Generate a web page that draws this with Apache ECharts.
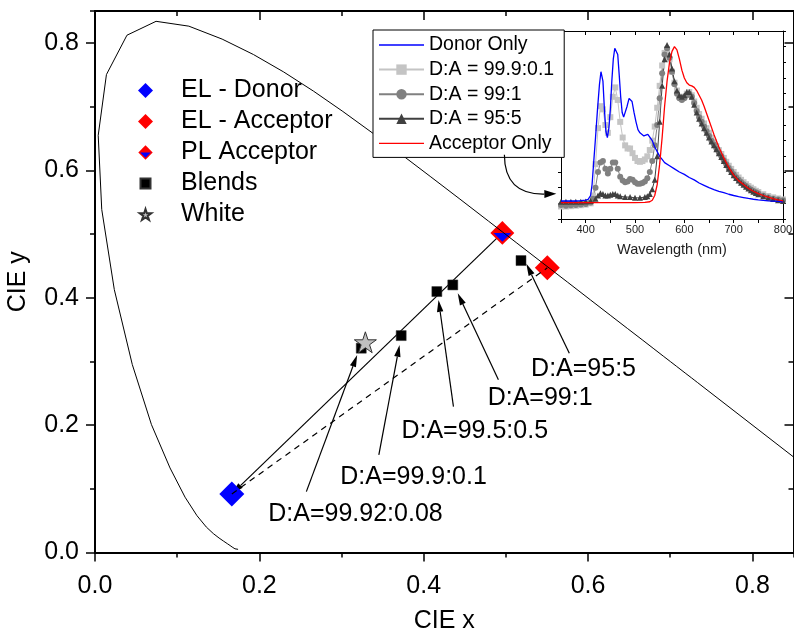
<!DOCTYPE html>
<html>
<head>
<meta charset="utf-8">
<script src="https://cdn.jsdelivr.net/npm/echarts@6.0.0/dist/echarts.min.js"></script>
<style>
  html, body { margin: 0; padding: 0; background: #fff; }
  #chart { width: 794px; height: 633px; }
</style>
</head>
<body>
<div id="chart"></div>
<script>
const FONT = '"Liberation Sans", Arial, Helvetica, sans-serif';

// CIE 1931 spectral locus (380–700 nm), continued along x + y = 1 past the red end
const locus = [
  [0.1741,0.0050],[0.1740,0.0050],[0.1738,0.0049],[0.1736,0.0049],[0.1733,0.0048],
  [0.1730,0.0048],[0.1726,0.0048],[0.1721,0.0048],[0.1714,0.0051],[0.1703,0.0058],
  [0.1689,0.0069],[0.1669,0.0086],[0.1644,0.0109],[0.1611,0.0138],[0.1566,0.0177],
  [0.1510,0.0227],[0.1440,0.0297],[0.1355,0.0399],[0.1241,0.0578],[0.1096,0.0868],
  [0.0913,0.1327],[0.0687,0.2007],[0.0454,0.2950],[0.0235,0.4127],[0.0082,0.5384],
  [0.0039,0.6548],[0.0139,0.7502],[0.0389,0.8120],[0.0743,0.8338],[0.1142,0.8262],
  [0.1547,0.8059],[0.1929,0.7816],[0.2296,0.7543],[0.2658,0.7243],[0.3016,0.6923],
  [0.3373,0.6589],[0.3731,0.6245],[0.4087,0.5896],[0.4441,0.5547],[0.4788,0.5202],
  [0.5125,0.4866],[0.5448,0.4544],[0.5752,0.4242],[0.6029,0.3965],[0.6270,0.3725],
  [0.6482,0.3514],[0.6658,0.3340],[0.6801,0.3197],[0.6915,0.3083],[0.7006,0.2993],
  [0.7079,0.2920],[0.7190,0.2809],[0.7260,0.2740],[0.7300,0.2700],[0.7334,0.2666],
  [0.7347,0.2653],[0.8600,0.1400]
];

// Colour coordinates
const elDonor = [0.1665, 0.092];
const elAcceptor = [0.5504, 0.4468];
const plAcceptor = [0.4957, 0.5017];
const blends = [[0.324, 0.3207], [0.3726, 0.3405], [0.416, 0.4096], [0.4354, 0.420], [0.5184, 0.4583]];
const whitePoint = [0.329, 0.330];

// Blend annotations: text, text centre, arrow tail, arrow tip (CIE x, y)
const noteText = ['D:A=99.92:0.08', 'D:A=99.9:0.1', 'D:A=99.5:0.5', 'D:A=99:1', 'D:A=95:5'];
const noteLabelPos = [[0.317, 0.0606], [0.3876, 0.118], [0.4621, 0.1898], [0.5417, 0.243], [0.5945, 0.2874]];
const noteArrowFrom = [[0.2572, 0.0956], [0.3454, 0.1532], [0.4362, 0.229], [0.4909, 0.271], [0.5772, 0.3129]];
const noteArrowTo = [[0.319, 0.310], [0.3706, 0.3259], [0.418, 0.3965], [0.4414, 0.407], [0.5249, 0.4531]];

// Curved pointer from the spectra legend into the spectra panel: start, control, tip
const insetPointer = [0.4982, 0.6242, 0.4982, 0.5615, 0.5614, 0.5630];

// Normalised emission spectra: [wavelength nm, intensity]
const donorOnly = [
  [350,0.015],[360,0.015],[370,0.015],[380,0.015],[390,0.017],[400,0.02],[405,0.025],[410,0.05],
  [413,0.12],[416,0.25],[420,0.42],[424,0.6],[428,0.76],[431,0.84],[433,0.85],[435,0.78],[438,0.6],
  [441,0.46],[444,0.42],[447,0.48],[450,0.6],[453,0.78],[456,0.92],[459,0.99],[462,1.0],[465,0.95],
  [468,0.82],[471,0.68],[474,0.58],[477,0.55],[480,0.56],[484,0.62],[488,0.67],[491,0.68],[494,0.65],
  [498,0.58],[502,0.52],[506,0.47],[510,0.45],[514,0.44],[518,0.43],[522,0.44],[526,0.44],[530,0.43],
  [535,0.4],[540,0.36],[545,0.33],[550,0.3],[555,0.28],[560,0.26],[570,0.24],[580,0.22],[590,0.2],
  [600,0.185],[610,0.165],[620,0.15],[630,0.13],[640,0.115],[650,0.1],[660,0.088],[670,0.077],
  [680,0.068],[690,0.058],[700,0.05],[710,0.043],[720,0.037],[730,0.031],[740,0.026],[750,0.022],
  [760,0.019],[770,0.016],[780,0.014],[790,0.012],[800,0.01]
];
const blend999 = [
  [350,-0.02],[360,-0.02],[370,-0.018],[380,-0.015],[390,-0.012],[400,-0.008],[410,0.0],[415,0.05],
  [420,0.25],[425,0.48],[430,0.62],[435,0.6],[440,0.5],[445,0.45],[450,0.55],[455,0.68],[460,0.74],
  [465,0.66],[470,0.52],[475,0.42],[480,0.37],[485,0.35],[490,0.35],[495,0.32],[500,0.29],[505,0.27],
  [510,0.265],[515,0.27],[520,0.28],[525,0.3],[530,0.34],[535,0.4],[540,0.49],[545,0.61],[550,0.75],
  [555,0.88],[560,0.96],[565,0.98],[570,0.92],[575,0.84],[580,0.77],[585,0.72],[590,0.68],[595,0.67],
  [600,0.68],[605,0.7],[610,0.71],[615,0.69],[620,0.65],[625,0.61],[630,0.57],[635,0.54],[640,0.51],
  [645,0.48],[650,0.45],[655,0.42],[660,0.39],[665,0.365],[670,0.34],[675,0.315],[680,0.29],
  [685,0.265],[690,0.24],[695,0.22],[700,0.2],[705,0.182],[710,0.165],[715,0.15],[720,0.135],
  [725,0.122],[730,0.11],[735,0.1],[740,0.09],[745,0.08],[750,0.072],[760,0.058],[770,0.047],
  [780,0.038],[790,0.031],[800,0.025]
];
const blend99 = [
  [350,-0.01],[360,-0.015],[370,-0.012],[380,-0.01],[390,-0.008],[400,-0.005],[410,0.005],[415,0.03],
  [420,0.1],[425,0.2],[430,0.26],[435,0.27],[440,0.22],[445,0.19],[450,0.22],[455,0.26],[460,0.26],
  [465,0.22],[470,0.17],[475,0.145],[480,0.135],[485,0.14],[490,0.155],[495,0.15],[500,0.135],
  [505,0.125],[510,0.125],[515,0.13],[520,0.14],[525,0.16],[530,0.2],[535,0.27],[540,0.37],[545,0.5],
  [550,0.67],[555,0.83],[560,0.95],[565,0.99],[570,0.93],[575,0.84],[580,0.76],[585,0.7],[590,0.67],
  [595,0.66],[600,0.67],[605,0.69],[610,0.7],[615,0.68],[620,0.64],[625,0.59],[630,0.55],[635,0.52],
  [640,0.49],[645,0.46],[650,0.43],[655,0.4],[660,0.375],[665,0.35],[670,0.325],[675,0.3],[680,0.275],
  [685,0.25],[690,0.225],[695,0.205],[700,0.185],[705,0.167],[710,0.15],[715,0.136],[720,0.122],
  [725,0.11],[730,0.098],[735,0.088],[740,0.078],[745,0.07],[750,0.062],[760,0.048],[770,0.038],
  [780,0.03],[790,0.024],[800,0.02]
];
const blend95 = [
  [350,0.01],[360,0.01],[370,0.01],[380,0.01],[390,0.01],[400,0.012],[410,0.015],[420,0.03],[425,0.05],
  [430,0.065],[435,0.06],[440,0.05],[445,0.05],[450,0.055],[455,0.06],[460,0.06],[465,0.05],[470,0.045],
  [480,0.04],[490,0.04],[500,0.035],[510,0.035],[520,0.04],[525,0.045],[530,0.06],[535,0.09],[540,0.15],
  [545,0.3],[550,0.52],[555,0.75],[560,0.92],[565,1.01],[570,0.95],[575,0.86],[580,0.78],[585,0.72],
  [590,0.69],[595,0.68],[600,0.69],[605,0.71],[610,0.71],[615,0.68],[620,0.63],[625,0.58],[630,0.54],
  [635,0.51],[640,0.48],[645,0.45],[650,0.42],[655,0.395],[660,0.37],[665,0.345],[670,0.32],[675,0.295],
  [680,0.27],[685,0.245],[690,0.22],[695,0.2],[700,0.18],[705,0.162],[710,0.145],[715,0.131],[720,0.118],
  [725,0.106],[730,0.094],[735,0.084],[740,0.074],[745,0.066],[750,0.058],[760,0.045],[770,0.035],
  [780,0.027],[790,0.02],[800,0.015]
];
const acceptorOnly = [
  [350,0.005],[380,0.005],[420,0.005],[460,0.005],[500,0.005],[520,0.006],[530,0.01],[535,0.02],
  [540,0.05],[545,0.12],[550,0.25],[555,0.42],[560,0.62],[565,0.78],[570,0.9],[575,0.97],[580,1.0],
  [585,0.98],[590,0.92],[595,0.85],[600,0.8],[605,0.77],[610,0.755],[615,0.75],[620,0.74],[625,0.72],
  [630,0.69],[635,0.66],[640,0.62],[650,0.53],[660,0.44],[670,0.36],[680,0.29],[690,0.23],[700,0.18],
  [710,0.145],[720,0.12],[730,0.095],[740,0.077],[750,0.062],[760,0.05],[770,0.04],[780,0.03],
  [790,0.022],[800,0.015]
];

// Marker shapes
const plSvg = '<svg xmlns="http://www.w3.org/2000/svg" width="48" height="48" viewBox="0 0 48 48">' +
  '<polygon points="24,1 47,24 24,47 1,24" fill="#ff0000"/>' +
  '<polygon points="7,24 41,24 24,41" fill="#0000ff"/></svg>';
const plSymbol = 'image://data:image/svg+xml;charset=utf-8,' + encodeURIComponent(plSvg);
const starPath = 'path://M50,0 L61.23,34.55 L97.55,34.55 L68.17,55.9 L79.39,90.45 L50,69.1 L20.61,90.45 L31.83,55.9 L2.45,34.55 L38.77,34.55 Z';
const starLegendIcon = 'path://M-12,-14 M112,104 M50,0 L61.23,34.55 L97.55,34.55 L68.17,55.9 L79.39,90.45 L50,69.1 L20.61,90.45 L31.83,55.9 L2.45,34.55 L38.77,34.55 Z';
const squareLegendIcon = 'path://M0,0 M15,15 M2.5,2.5 H12.5 V12.5 H2.5 Z';
const plainLineIcon = 'path://M0,0 M45,13 M0,5.85 H45 V7.15 H0 Z';

function arrowHead(tip, from, len, half) {
  const ang = Math.atan2(tip[1] - from[1], tip[0] - from[0]);
  const c = Math.cos(ang), s = Math.sin(ang);
  const bx = tip[0] - len * c, by = tip[1] - len * s;
  return { base: [bx, by], points: [tip, [bx - half * s, by + half * c], [bx + half * s, by - half * c]] };
}

function renderArrow(params, api) {
  const a = api.coord([api.value(0), api.value(1)]);
  const b = api.coord([api.value(2), api.value(3)]);
  const h = arrowHead(b, a, 12, 3.2);
  return {
    type: 'group',
    children: [
      { type: 'line', shape: { x1: a[0], y1: a[1], x2: h.base[0], y2: h.base[1] }, style: { stroke: '#000', lineWidth: 1.2 } },
      { type: 'polygon', shape: { points: h.points }, style: { fill: '#000' } }
    ]
  };
}

function renderCurve(params, api) {
  const p0 = api.coord([api.value(0), api.value(1)]);
  const c = api.coord([api.value(2), api.value(3)]);
  const p1 = api.coord([api.value(4), api.value(5)]);
  const h = arrowHead(p1, c, 12, 4);
  return {
    type: 'group',
    children: [
      { type: 'bezierCurve', shape: { x1: p0[0], y1: p0[1], x2: h.base[0], y2: h.base[1], cpx1: c[0], cpy1: c[1] },
        style: { stroke: '#000', fill: 'none', lineWidth: 1.2 } },
      { type: 'polygon', shape: { points: h.points }, style: { fill: '#000' } }
    ]
  };
}

function renderNote(params, api) {
  const p = api.coord([api.value(0), api.value(1)]);
  return {
    type: 'text', x: p[0], y: p[1],
    style: { text: noteText[params.dataIndex], fill: '#000', font: '25px ' + FONT, align: 'center', verticalAlign: 'middle' }
  };
}

// Axis builders
const black = '#000';
function mainX(extra) {
  return Object.assign({
    type: 'value', gridIndex: 0, min: 0, max: 0.85,
    splitLine: { show: false },
    axisLine: { show: false, onZero: false, lineStyle: { color: black, width: 2 } },
    axisLabel: { show: false }
  }, extra);
}
function mainY(extra) {
  return Object.assign({
    type: 'value', gridIndex: 0, min: 0, max: 0.85,
    splitLine: { show: false },
    axisLine: { show: false, onZero: false, lineStyle: { color: black, width: 2 } },
    axisLabel: { show: false }
  }, extra);
}
const tickLabel = { show: true, fontSize: 25, fontFamily: FONT, color: black, showMaxLabel: false, formatter: v => v.toFixed(1) };
const majorTick = (inside) => ({ show: true, inside, length: 9, lineStyle: { color: black, width: 1.5 } });
const minorTickStyle = (inside) => ({ show: true, inside, length: 5, lineStyle: { color: black, width: 1.5 } });
const shownLine = { show: true, onZero: false, lineStyle: { color: black, width: 2 } };

const insetLine = { show: true, onZero: false, lineStyle: { color: black, width: 1 } };

function spectrum(name, data, color, symbol, size, width, z) {
  return {
    type: 'line', name, data, xAxisIndex: 4, yAxisIndex: 4, z,
    symbol: symbol || 'none', showSymbol: !!symbol, symbolSize: size || 0,
    itemStyle: { color }, lineStyle: { color, width: width || 1 },
    clip: true, silent: true
  };
}

const chart = echarts.init(document.getElementById('chart'), null, { renderer: 'canvas' });
chart.setOption({
  animation: false,
  backgroundColor: '#fff',
  textStyle: { fontFamily: FONT },
  grid: [
    { left: 95, top: 11, width: 698.5, height: 541.5, outerBoundsMode: 'none', containLabel: false },
    { left: 561, top: 31, width: 222, height: 188, outerBoundsMode: 'none', containLabel: false }
  ],
  xAxis: [
    mainX({ position: 'bottom', interval: 0.2, axisLine: shownLine, axisTick: majorTick(false),
      axisLabel: Object.assign({ margin: 21 }, tickLabel),
      name: 'CIE x', nameLocation: 'middle', nameGap: 56,
      nameTextStyle: { fontSize: 25, color: black, fontFamily: FONT } }),
    mainX({ position: 'bottom', interval: 0.1, axisTick: minorTickStyle(false) }),
    mainX({ position: 'top', interval: 0.2, axisLine: shownLine, axisTick: majorTick(true) }),
    mainX({ position: 'top', interval: 0.1, axisTick: minorTickStyle(true) }),
    { type: 'value', gridIndex: 1, position: 'bottom', min: 350, max: 800, interval: 50,
      splitLine: { show: false }, axisLine: insetLine,
      axisTick: { show: true, length: 4, lineStyle: { color: black, width: 1 } },
      axisLabel: { show: true, fontSize: 11, color: '#222', margin: 5, fontFamily: FONT,
        formatter: v => (v % 100 === 0 ? String(v) : '') },
      name: 'Wavelength (nm)', nameLocation: 'middle', nameGap: 23,
      nameTextStyle: { fontSize: 14.5, color: '#222', fontFamily: FONT } },
    { type: 'value', gridIndex: 1, position: 'top', min: 350, max: 800, interval: 50,
      splitLine: { show: false }, axisLine: insetLine,
      axisTick: { show: true, inside: true, length: 4, lineStyle: { color: black, width: 1 } },
      axisLabel: { show: false } }
  ],
  yAxis: [
    mainY({ position: 'left', interval: 0.2, axisLine: shownLine, axisTick: majorTick(false),
      axisLabel: Object.assign({ margin: 16 }, tickLabel),
      name: 'CIE y', nameLocation: 'middle', nameGap: 64,
      nameTextStyle: { fontSize: 25, color: black, fontFamily: FONT } }),
    mainY({ position: 'left', interval: 0.1, axisTick: minorTickStyle(false) }),
    mainY({ position: 'right', interval: 0.2, axisLine: shownLine, axisTick: majorTick(true) }),
    mainY({ position: 'right', interval: 0.1, axisTick: minorTickStyle(true) }),
    { type: 'value', gridIndex: 1, position: 'left', min: -0.1, max: 1.1, interval: 0.1,
      splitLine: { show: false }, axisLine: insetLine,
      axisTick: { show: true, length: 3, lineStyle: { color: black, width: 1 } },
      axisLabel: { show: false } },
    { type: 'value', gridIndex: 1, position: 'right', min: -0.1, max: 1.1, interval: 0.1,
      splitLine: { show: false }, axisLine: insetLine,
      axisTick: { show: true, length: 3, lineStyle: { color: black, width: 1 } },
      axisLabel: { show: false } }
  ],
  legend: [
    {
      orient: 'vertical', left: 137, top: 78, padding: 0,
      itemWidth: 15, itemHeight: 15, itemGap: 6, selectedMode: false,
      textStyle: { fontSize: 25, lineHeight: 25, color: black, fontFamily: FONT, padding: [0, 0, 0, 23] },
      data: [
        { name: 'EL - Donor' },
        { name: 'EL - Acceptor' },
        { name: 'PL Acceptor' },
        { name: 'Blends', icon: squareLegendIcon },
        { name: 'White', icon: starLegendIcon }
      ]
    },
    {
      orient: 'vertical', left: 373, top: 30, padding: [5, 10, 4, 5],
      backgroundColor: '#fff', borderColor: black, borderWidth: 1,
      itemWidth: 45, itemHeight: 13, itemGap: 4.6, selectedMode: false,
      textStyle: { fontSize: 19.5, lineHeight: 20, color: black, fontFamily: FONT },
      data: [
        { name: 'Donor Only', icon: plainLineIcon },
        'D:A = 99.9:0.1', 'D:A = 99:1', 'D:A = 95:5',
        { name: 'Acceptor Only', icon: plainLineIcon }
      ]
    }
  ],
  series: [
    { type: 'line', name: 'locus', data: locus, xAxisIndex: 0, yAxisIndex: 0,
      showSymbol: false, symbol: 'none', lineStyle: { color: black, width: 1 }, clip: true, silent: true },

    { type: 'scatter', name: 'EL - Donor', data: [elDonor], xAxisIndex: 0, yAxisIndex: 0,
      symbol: 'diamond', symbolSize: 25, itemStyle: { color: '#0000ff', opacity: 1 }, silent: true },
    { type: 'scatter', name: 'EL - Acceptor', data: [elAcceptor], xAxisIndex: 0, yAxisIndex: 0,
      symbol: 'diamond', symbolSize: 25, itemStyle: { color: '#ff0000', opacity: 1 }, silent: true },
    { type: 'scatter', name: 'PL Acceptor', data: [plAcceptor], xAxisIndex: 0, yAxisIndex: 0,
      symbol: plSymbol, symbolSize: 25, itemStyle: { color: '#ff0000', opacity: 1 }, silent: true },
    { type: 'scatter', name: 'Blends', data: blends, xAxisIndex: 0, yAxisIndex: 0,
      symbol: 'rect', symbolSize: 10, itemStyle: { color: '#000', borderColor: '#333', borderWidth: 0.5, opacity: 1 }, silent: true },
    { type: 'scatter', name: 'White', data: [whitePoint], xAxisIndex: 0, yAxisIndex: 0,
      symbol: starPath, symbolKeepAspect: true, symbolSize: 22,
      itemStyle: { color: '#c0c0c0', borderColor: '#333', borderWidth: 1, opacity: 1 }, silent: true },

    // donor → PL acceptor tie line, arrow at the donor
    { type: 'custom', name: 'tie-PL', xAxisIndex: 0, yAxisIndex: 0, silent: true,
      data: [[plAcceptor[0], plAcceptor[1], elDonor[0], elDonor[1]]], renderItem: renderArrow },
    // donor → EL acceptor tie line
    { type: 'line', name: 'tie-EL', data: [elDonor, elAcceptor], xAxisIndex: 0, yAxisIndex: 0,
      showSymbol: false, symbol: 'none', lineStyle: { color: black, width: 1.2, type: [6, 5] }, silent: true },

    { type: 'custom', name: 'note-arrows', xAxisIndex: 0, yAxisIndex: 0, silent: true,
      data: noteArrowFrom.map((p, i) => [p[0], p[1], noteArrowTo[i][0], noteArrowTo[i][1]]), renderItem: renderArrow },
    { type: 'custom', name: 'note-text', xAxisIndex: 0, yAxisIndex: 0, silent: true,
      data: noteLabelPos, renderItem: renderNote },
    { type: 'custom', name: 'inset-pointer', xAxisIndex: 0, yAxisIndex: 0, silent: true, z: 5,
      data: [insetPointer], renderItem: renderCurve },

    spectrum('D:A = 99.9:0.1', blend999, '#c4c4c4', 'rect', 6, 1, 2),
    spectrum('D:A = 99:1', blend99, '#808080', 'circle', 6, 1, 2),
    spectrum('D:A = 95:5', blend95, '#404040', 'triangle', 6, 1, 2),
    spectrum('Donor Only', donorOnly, '#0000ff', null, 0, 1.3, 3),
    spectrum('Acceptor Only', acceptorOnly, '#ff0000', null, 0, 1.3, 3)
  ]
});
</script>
</body>
</html>
